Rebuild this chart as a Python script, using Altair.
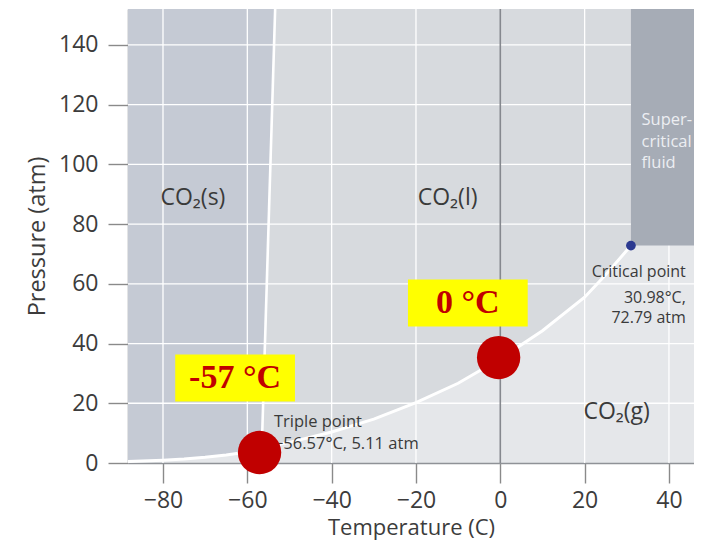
import altair as alt
import pandas as pd

# ---- axis ranges ----
T_MIN, T_MAX = -88.3, 45.94
P_MIN, P_MAX = 0.0, 152.0
x_ticks = [-80, -60, -40, -20, 0, 20, 40]
y_ticks = [0, 20, 40, 60, 80, 100, 120, 140]
grid_T = [-80, -60, -40, -20, 20, 40]
grid_P = [20, 40, 60, 80, 100, 120, 140]

# ---- phase boundaries ----
sub_T = [-88.3, -85, -80, -75, -70, -65, -60, -56.57]
sub_P = [0.5, 0.65, 0.9, 1.3, 1.9, 2.7, 3.7, 5.11]
vap_T = [-56.57, -50, -40, -30, -20, -10, 0, 10, 20, 25, 30.98]
vap_P = [5.11, 6.9, 10.4, 14.7, 20.2, 26.7, 34.9, 44.3, 55.5, 63.0, 72.79]
melt_T = [-56.57, -53.4]
melt_P = [5.11, 152.0]

crit_T, crit_P = [30.98], [72.79]

# ---- labels ----
phase_lbl = ["CO₂(s)", "CO₂(l)", "CO₂(g)"]
phase_T = [-72.9, -12.5, 27.6]
phase_P = [86.5, 86.5, 14.6]

sc_lbl = ["Super-", "critical", "fluid"]
sc_T = [33.5, 33.5, 33.5]
sc_P = [113.2, 105.9, 98.9]

crit_lbl = ["Critical point", "30.98°C,", "72.79 atm"]
crit_lbl_T = [44.0, 44.0, 44.0]
crit_lbl_P = [62.4, 53.7, 47.0]

trip_lbl = ["Triple point", "−56.57°C, 5.11 atm"]
trip_lbl_T = [-53.7, -53.7]
trip_lbl_P = [12.2, 4.85]

# ---- overlay annotations ----
dot_T = [-57.1, -0.4]
dot_P = [3.5, 35.3]
box_T1 = [-77.1, -21.9]
box_T2 = [-48.7, 6.5]
box_P1 = [20.6, 45.7]
box_P2 = [36.3, 61.4]
box_lbl = ["-57 °C", "0 °C"]
box_lbl_T = [-62.9, -7.7]
box_lbl_P = [28.4, 53.5]

C_SOLID = "#c5cad4"
C_LIQ = "#d7dade"
C_GAS = "#e5e7ea"
C_SC = "#a6acb6"
FONT = "Open Sans"

xs = alt.Scale(domain=[T_MIN, T_MAX], nice=False, zero=False)
ys = alt.Scale(domain=[P_MIN, P_MAX], nice=False, zero=False)

X = lambda f: alt.X(f, type="quantitative", scale=xs)
Y = lambda f: alt.Y(f, type="quantitative", scale=ys)

# liquid region (above vaporization curve)
liq_df = pd.DataFrame({"T": vap_T, "P": vap_P, "Ptop": [P_MAX] * len(vap_T)})
liquid = alt.Chart(liq_df).mark_area(color=C_LIQ, opacity=1).encode(
    x=X("T").axis(
        title="Temperature (C)", values=x_ticks, grid=False,
        titleY=71.5, titleBaseline="alphabetic", labelPadding=6
    ),
    y=Y("P").axis(title="Pressure (atm)", values=y_ticks, grid=False),
    y2="Ptop",
)

# solid region: above sublimation curve, left of melting line
sol_T = sub_T + [melt_T[1]]
sol_P = sub_P + [melt_P[1]]
sol_df = pd.DataFrame({"T": sol_T, "P": sol_P, "Ptop": [P_MAX] * len(sol_T)})
solid = alt.Chart(sol_df).mark_area(color=C_SOLID, opacity=1).encode(
    x=X("T"), y=Y("P"), y2="Ptop"
)

vgrid = alt.Chart(pd.DataFrame({"T": grid_T})).mark_rule(
    color="white", strokeWidth=1.3
).encode(x=X("T"))
hgrid = alt.Chart(pd.DataFrame({"P": grid_P})).mark_rule(
    color="white", strokeWidth=1.3
).encode(y=Y("P"))

sc_df = pd.DataFrame(
    {"T1": crit_T, "T2": [T_MAX], "P1": crit_P, "P2": [P_MAX]}
)
supercrit = alt.Chart(sc_df).mark_rect(color=C_SC, opacity=1).encode(
    x=X("T1"), x2="T2", y=Y("P1"), y2="P2"
)

curve_df = pd.DataFrame(
    {"T": sub_T + vap_T[1:], "P": sub_P + vap_P[1:], "o": list(range(len(sub_T) + len(vap_T) - 1))}
)
curve = alt.Chart(curve_df).mark_line(color="white", strokeWidth=3).encode(
    x=X("T"), y=Y("P"), order="o:Q"
)
melt_df = pd.DataFrame({"T": melt_T, "P": melt_P})
melt = alt.Chart(melt_df).mark_line(color="white", strokeWidth=2.6).encode(
    x=X("T"), y=Y("P"), order="P:Q"
)

zero_line = alt.Chart(pd.DataFrame({"T": [0]})).mark_rule(
    color="#85888e", strokeWidth=1.6
).encode(x=X("T"))

crit_dot = alt.Chart(pd.DataFrame({"T": crit_T, "P": crit_P})).mark_circle(
    color="#2b3990", size=95, opacity=1
).encode(x=X("T"), y=Y("P"))

phase_txt = alt.Chart(
    pd.DataFrame({"T": phase_T, "P": phase_P, "t": phase_lbl})
).mark_text(font=FONT, fontSize=23, color="#3a3a3a", baseline="alphabetic", align="center").encode(
    x=X("T"), y=Y("P"), text="t:N"
)

sc_txt = alt.Chart(pd.DataFrame({"T": sc_T, "P": sc_P, "t": sc_lbl})).mark_text(
    font=FONT, fontSize=16.5, color="#eceef2", baseline="alphabetic", align="left"
).encode(x=X("T"), y=Y("P"), text="t:N")

crit_txt = alt.Chart(
    pd.DataFrame({"T": crit_lbl_T, "P": crit_lbl_P, "t": crit_lbl})
).mark_text(font=FONT, fontSize=16, color="#3a3a3a", baseline="alphabetic", align="right").encode(
    x=X("T"), y=Y("P"), text="t:N"
)

trip_txt = alt.Chart(
    pd.DataFrame({"T": trip_lbl_T, "P": trip_lbl_P, "t": trip_lbl})
).mark_text(font=FONT, fontSize=16.5, color="#3a3a3a", baseline="alphabetic", align="left").encode(
    x=X("T"), y=Y("P"), text="t:N"
)

red_dots = alt.Chart(pd.DataFrame({"T": dot_T, "P": dot_P})).mark_circle(
    color="#c00000", size=1880, opacity=1
).encode(x=X("T"), y=Y("P"))

boxes = alt.Chart(
    pd.DataFrame({"T1": box_T1, "T2": box_T2, "P1": box_P1, "P2": box_P2})
).mark_rect(color="#ffff00", opacity=1).encode(x=X("T1"), x2="T2", y=Y("P1"), y2="P2")

box_txt = alt.Chart(
    pd.DataFrame({"T": box_lbl_T, "P": box_lbl_P, "t": box_lbl})
).mark_text(
    font="Liberation Serif", fontSize=34, fontWeight="bold", color="#c00000",
    baseline="middle", align="center"
).encode(x=X("T"), y=Y("P"), text="t:N")

chart = alt.layer(
    liquid, solid, vgrid, hgrid, supercrit, curve, melt, zero_line, crit_dot,
    phase_txt, sc_txt, crit_txt, trip_txt, red_dots, boxes, box_txt
).properties(
    width=566,
    height=454,
    autosize=alt.AutoSizeParams(type="none"),
    padding={"left": 120, "top": 1, "right": 0, "bottom": 79},
).configure_view(
    fill=C_GAS, strokeWidth=0
).configure_axis(
    labelFont=FONT, labelFontSize=23, labelColor="#3c3c3c",
    titleFont=FONT, titleFontSize=22, titleColor="#3c3c3c", titleFontWeight="normal",
    domainColor="#8f9297", domainWidth=1.5, tickColor="#8a8a8a", tickWidth=1.4,
    tickSize=20, labelPadding=10,
).configure_axisY(
    titlePadding=9, titleFontSize=23.5
)

chart.save("out.html", embed_options={"renderer": "svg", "actions": False})
